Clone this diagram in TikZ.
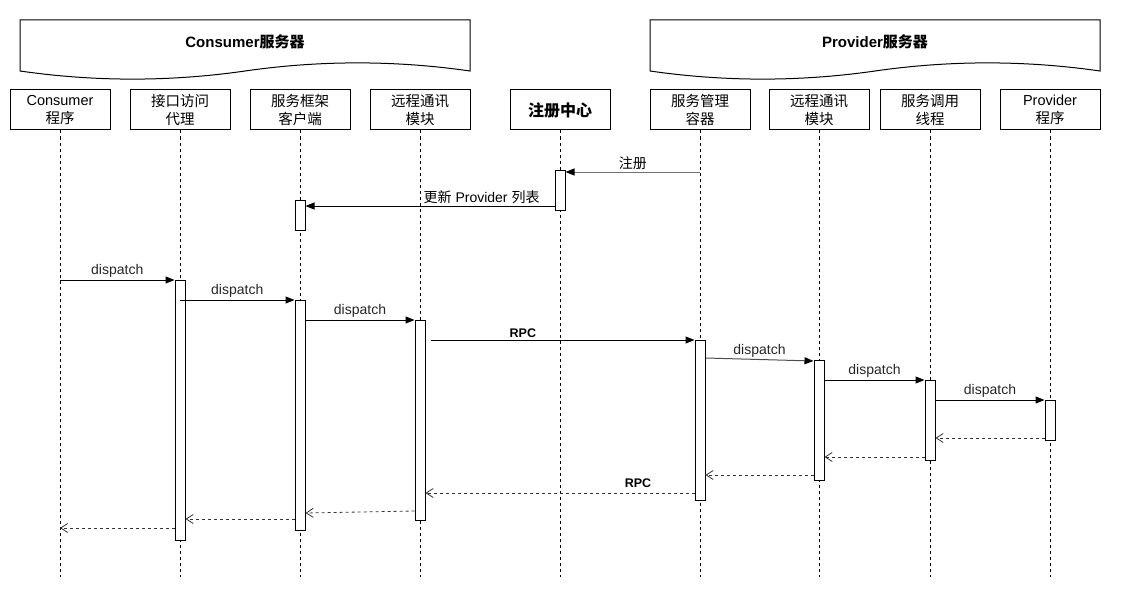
\documentclass[tikz,border=0pt]{standalone}
\usepackage{fontspec}
\setmainfont{Liberation Sans}
\newfontfamily\cjk{Noto Sans CJK SC}
\usetikzlibrary{arrows.meta,calc}
\begin{document}
\begin{tikzpicture}[x=1pt,y=-1pt,
  hdr/.style={draw, line width=1pt},
  hdrtext/.style={font=\bfseries\fontsize{15}{18}\selectfont},
  lbox/.style={draw, line width=1pt, minimum width=100pt, minimum height=40pt, inner sep=0pt, align=center, font=\fontsize{14.5}{18}\selectfont},
  cbox/.style={lbox, font=\fontsize{14.5}{18}\selectfont\cjk},
  life/.style={dash pattern=on 3pt off 3pt, line width=0.8pt},
  bar/.style={draw, fill=white, line width=1pt, minimum width=10pt, inner sep=0pt, anchor=north},
  msg/.style={line width=1pt, -{Triangle[length=9pt,width=7pt,black]}},
  ret/.style={line width=0.8pt, black!80, dash pattern=on 3pt off 3pt, -{Straight Barb[length=7pt,width=9pt]}},
  lbl/.style={font=\fontsize{14}{16}\selectfont, inner sep=2pt, text=black!85},
  rpc/.style={font=\bfseries\fontsize{12.5}{14}\selectfont, inner sep=2pt},
  clbl/.style={font=\fontsize{14}{16}\selectfont, inner sep=2pt},
]
\useasboundingbox (0,0) rectangle (1121,591);

% server headers
\draw[hdr] (20,71) -- (20,20) -- (470,20) -- (470,71)
  .. controls (395,60.2) and (320,60.2) .. (245,71)
  .. controls (170,81.8) and (95,81.8) .. (20,71) -- cycle;
\node[hdrtext] (hc) at (245,42) {Consumer{\cjk 服务器}};
\draw[hdr] (650,71) -- (650,20) -- (1100,20) -- (1100,71)
  .. controls (1025,60.2) and (950,60.2) .. (875,71)
  .. controls (800,81.8) and (725,81.8) .. (650,71) -- cycle;
\node[hdrtext] (hp) at (875,42) {Provider{\cjk 服务器}};

% lifeline heads
\node[lbox] (L1) at (60,110) {Consumer\\{\cjk 程序}};
\node[cbox] (L2) at (180,110) {接口访问\\代理};
\node[cbox] (L3) at (300,110) {服务框架\\客户端};
\node[cbox] (L4) at (420,110) {远程通讯\\模块};
\node[lbox, font=\bfseries\fontsize{16}{18}\selectfont\cjk] (L5) at (560,110) {注册中心};
\node[cbox] (L6) at (700,110) {服务管理\\容器};
\node[cbox] (L7) at (819,110) {远程通讯\\模块};
\node[cbox] (L8) at (930,110) {服务调用\\线程};
\node[lbox] (L9) at (1050,110) {Provider\\{\cjk 程序}};

\coordinate (bot) at (0,577);
\foreach \n in {L1,L2,L3,L4,L5,L6,L7,L8,L9}
  \draw[life] (\n.south) -- (\n.south |- bot);

% activation bars
\node[bar, minimum height=40pt] (r1) at (560,170) {};
\node[bar, minimum height=30pt] (s0) at (300,200) {};
\node[bar, minimum height=260pt] (b1) at (180,280) {};
\node[bar, minimum height=230pt] (b2) at (300,300) {};
\node[bar, minimum height=200pt] (b3) at (420,320) {};
\node[bar, minimum height=160pt] (b4) at (700,340) {};
\node[bar, minimum height=120pt] (b5) at (819,360) {};
\node[bar, minimum height=80pt] (b6) at (930,380) {};
\node[bar, minimum height=40pt] (b7) at (1050,400) {};

% registry messages
\coordinate (m1) at ($(r1.north east)+(0,2)$);
\draw[msg, draw=black!55] (L6 |- m1) -- node[clbl, above]{\cjk 注册} (m1);
\coordinate (m2) at ($(r1.south west)+(0,-5)$);
\draw[msg] (m2) -- node[clbl, pos=0.05, anchor=south east]{{\cjk 更新} Provider {\cjk 列表}} (s0.east |- m2);

% calls
\draw[msg] (L1 |- b1.north) -- node[lbl, above]{dispatch} (b1.north west);
\draw[msg] (b1.center |- b2.north) -- node[lbl, above]{dispatch} (b2.north west);
\draw[msg] (b2.east |- b3.north) -- node[lbl, above]{dispatch} (b3.north west);
\coordinate (rs) at ($(b3.east |- b4.north)+(5,0)$);
\draw[msg] (rs) -- node[rpc, pos=0.35, above]{RPC} (b4.north west);
\coordinate (d5) at ($(b4.north east)+(0,18)$);
\draw[msg, draw=black!70] (d5) -- node[lbl, above]{dispatch} ($(b5.north west)+(0,1)$);
\draw[msg] (b5.east |- b6.north) -- node[lbl, above]{dispatch} (b6.north west);
\draw[msg] (b6.east |- b7.north) -- node[lbl, above]{dispatch} (b7.north west);

% returns
\coordinate (q1) at ($(b7.south west)+(0,-3)$);
\draw[ret] (q1) -- (b6.east |- q1);
\coordinate (q2) at ($(b6.south west)+(0,-4)$);
\draw[ret] (q2) -- (b5.east |- q2);
\coordinate (q3) at ($(b5.south west)+(0,-6)$);
\draw[ret] (q3) -- (b4.east |- q3);
\coordinate (q4) at ($(b4.south west)+(0,-8)$);
\draw[ret] (q4) -- node[rpc, pos=0.21, above=3pt, text=black]{RPC} (b3.east |- q4);
\coordinate (q5) at ($(b3.south west)+(0,-10)$);
\draw[ret] (q5) -- ($(b2.east |- q5)+(0,2)$);
\coordinate (q6) at ($(b2.south west)+(0,-12)$);
\draw[ret] (q6) -- (b1.east |- q6);
\coordinate (q7) at ($(b1.south west)+(0,-13)$);
\draw[ret] (q7) -- (L1 |- q7);
\end{tikzpicture}
\end{document}
